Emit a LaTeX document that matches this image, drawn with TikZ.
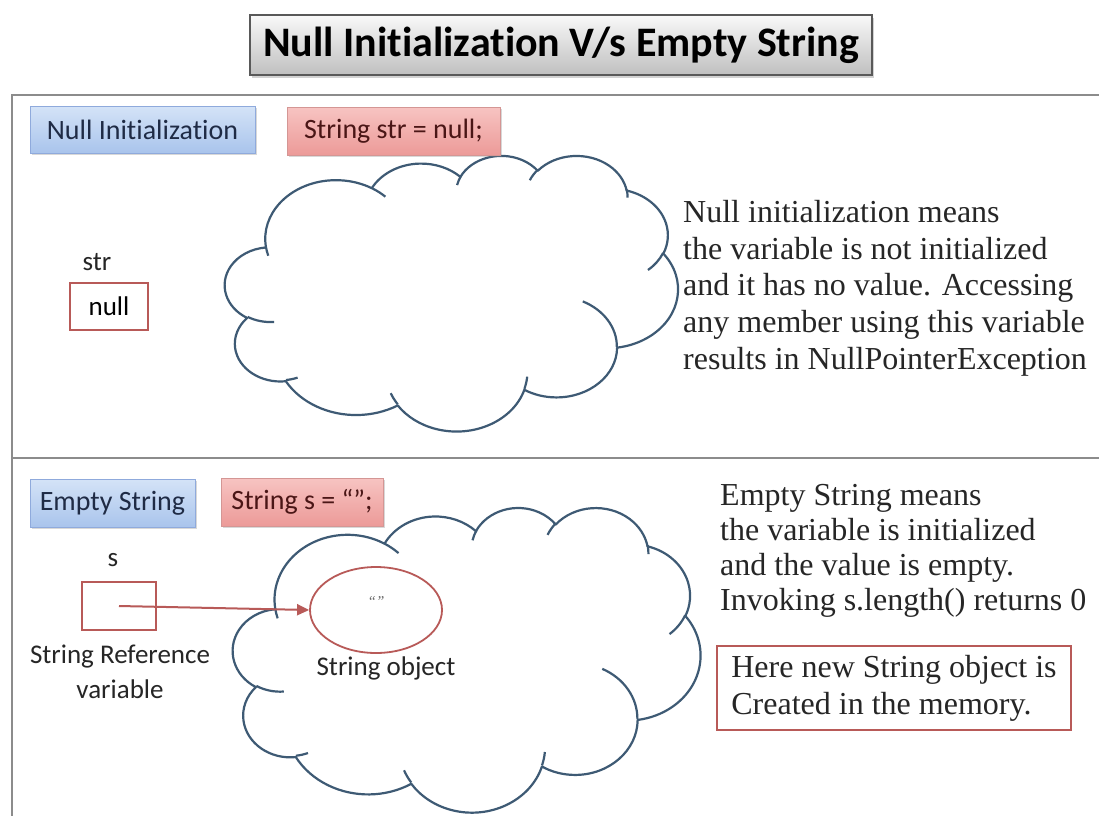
\documentclass[tikz,border=0pt]{standalone}
\usepackage{fontspec}
\setmainfont{Liberation Serif}
\newfontfamily\calfont[Ligatures=NoCommon]{Carlito}
\usetikzlibrary{shapes.geometric,shadows,arrows.meta}
\definecolor{framegray}{HTML}{8C8C8C}
\definecolor{cloudblue}{HTML}{3E5A74}
\definecolor{boxred}{HTML}{B85A58}
\definecolor{bluetop}{HTML}{D4E3F7}
\definecolor{bluebot}{HTML}{A9C4EC}
\definecolor{blueborder}{HTML}{8FAADC}
\definecolor{pinktop}{HTML}{F7C4C2}
\definecolor{pinkbot}{HTML}{EC9A98}
\definecolor{pinkborder}{HTML}{D49694}
\definecolor{bluetext}{HTML}{1F2B45}
\definecolor{redtext}{HTML}{4A1616}
% visual (DrawingML) angle -> parametric angle
\pgfmathdeclarefunction{vang}{3}{\pgfmathparse{atan2(#1*sin(#3),#2*cos(#3))}}
\pgfmathdeclarefunction{dang}{4}{\pgfmathparse{Mod(vang(#1,#2,#3+#4)-vang(#1,#2,#3),360)}}
\tikzset{
  titlebox/.style={draw=gray!70!black, line width=1.2pt, top color=gray!5, bottom color=gray!50,
    drop shadow={shadow xshift=2pt, shadow yshift=-3pt, opacity=0.35},
    font=\calfont\bfseries\fontsize{42}{48}\selectfont, inner sep=0pt},
  bluebox/.style={draw=blueborder, line width=1pt, top color=bluetop, bottom color=bluebot,
    drop shadow={shadow xshift=1.5pt, shadow yshift=-2pt, opacity=0.3},
    font=\calfont\fontsize{28}{32}\selectfont, text=bluetext, inner sep=0pt},
  pinkbox/.style={draw=pinkborder, line width=1pt, top color=pinktop, bottom color=pinkbot,
    drop shadow={shadow xshift=1.5pt, shadow yshift=-2pt, opacity=0.3},
    font=\calfont\fontsize{28}{32}\selectfont, text=redtext, inner sep=0pt},
  varbox/.style={draw=boxred, line width=1.8pt, inner sep=0pt, font=\calfont\fontsize{27}{30}\selectfont},
  label/.style={font=\calfont\fontsize{27}{35}\selectfont, inner sep=0pt, align=center, text=black!85},
  desc/.style={font=\fontsize{32}{36.75}\selectfont, align=left, inner sep=0pt, text=black!85},
  cloudline/.style={draw=cloudblue, line width=2.2pt, line join=round},
  frameline/.style={draw=framegray, line width=2pt},
  refarrow/.style={draw=boxred, line width=2pt, -{Triangle[length=12pt,width=11pt]}},
}
\newcommand\oa[4]{arc[x radius=#1, y radius=#2, start angle={vang(#1,#2,#3)}, delta angle={dang(#1,#2,#3,#4)}]}
\newcommand\ppcloud[4]{%
  \pgfmathsetmacro\cwx{#3/43.2}\pgfmathsetmacro\chy{#4/43.2}%
  \begin{scope}[shift={(#1,#2)}, x=\cwx pt/1000, y=-\chy pt/1000]
    \draw[cloudline, fill=white] (3900,14370)
      \oa{6753}{9190}{-190.48748}{123.78053}
      \oa{5333}{7267}{-144.10238}{89.94523}
      \oa{4365}{5945}{-145.80792}{99.72302}
      \oa{4857}{6595}{-130.98607}{117.24173}
      \oa{5333}{7273}{-78.70888}{109.02692}
      \oa{6775}{9220}{-46.26725}{130.269}
      \oa{5785}{7867}{0.62502}{114.03333}
      \oa{6752}{9215}{22.4516}{115.17255}
      \oa{7720}{10543}{66.24263}{75.71102}
      \oa{4360}{5918}{-274.94208}{146.73557}
      \oa{4345}{5945}{-246.8285}{152.51885}
      -- cycle;
    \draw[cloudline]
      (4693,26177) \oa{4345}{5945}{86.742}{26.4295}
      (6928,34899) \oa{4360}{5918}{73.61047}{11.44747}
      (16478,39090) \oa{6752}{9215}{137.62415}{14.0811}
      (28827,34751) \oa{6752}{9215}{6.45327}{15.99835}
      (34129,22954) \oa{5785}{7867}{-70.29235}{70.91737}
      (41798,15354) \oa{5333}{7273}{30.31803}{27.7515}
      (38324,5426) \oa{4857}{6595}{-13.74433}{14.8589}
      (29078,3952) \oa{4857}{6595}{-149.18145}{18.19537}
      (22141,4720) \oa{4365}{5945}{-163.49427}{17.68635}
      (14000,5192) \oa{6753}{9190}{-66.70695}{12.31935}
      (4127,15789) \oa{6753}{9190}{157.65435}{11.85817};
  \end{scope}}
\begin{document}
\begin{tikzpicture}[x=1pt,y=-1pt]
\useasboundingbox[fill=white] (0,0) rectangle (1099,816);

% frame
\coordinate (fTL) at (12,95);
\coordinate (fTR) at (1099,95);
\coordinate (fBL) at (12,816);
\coordinate (mL) at (12,458);
\coordinate (mR) at (1099,458);
\draw[frameline] (fTR) -- (fTL) -- (fBL);
\draw[frameline] (mL) -- (mR);

% title
\node[titlebox, minimum width=622pt, minimum height=60pt] (title) at (561,45) {Null Initialization V/s Empty String};

% --- Null section
\ppcloud{225}{155}{453}{276}
\node[bluebox, minimum width=225pt, minimum height=47pt] (nullhdr) at (142.5,129.5) {Null Initialization};
\node[pinkbox, minimum width=213pt, minimum height=48pt] (nullcode) at (393.5,131) {String str = null;};
\node[label] (strlbl) at (97,262) {str};
\node[varbox, minimum width=78pt, minimum height=47pt] (nullbox) at (109,306.5) {null};
\node[desc, anchor=north west] (desc1) at (683,200) {Null initialization means\\the variable is not initialized\\and it has no value. Accessing\\any member using this variable\\results in NullPointerException};

% --- Empty section
\ppcloud{233}{507}{468}{305}
\node[bluebox, minimum width=165pt, minimum height=48pt] (emptyhdr) at (112.5,503) {Empty String};
\node[pinkbox, minimum width=162pt, minimum height=48pt] (emptycode) at (302,502) {String s = “”;};
\node[label] (slbl) at (113,560) {s};
\node[varbox, minimum width=74pt, minimum height=48pt] (refbox) at (119,606) {};
\node[label, anchor=north] (reflbl) at (120,645) {String Reference\\variable};
\node[ellipse, draw=boxred, line width=1.8pt, minimum width=132pt, minimum height=86pt, inner sep=0pt] (strobj) at (376,610) {};
\node[font=\itshape\fontsize{15}{16}\selectfont, text=black!60] (quotes) at (376,602) {“”};
\node[label] (objlbl) at (386,668) {String object};
\draw[refarrow] (refbox.center) -- (strobj.west);
\node[desc, font=\fontsize{32}{35}\selectfont, anchor=north west] (desc2) at (720,484) {Empty String means\\the variable is initialized\\and the value is empty.\\Invoking s.length() returns 0};
\node[varbox, font=\fontsize{32}{37}\selectfont, align=left, minimum width=354pt, minimum height=84pt, text=black!85] (note) at (894,688) {Here new String object is\\Created in the memory.};
\end{tikzpicture}
\end{document}
